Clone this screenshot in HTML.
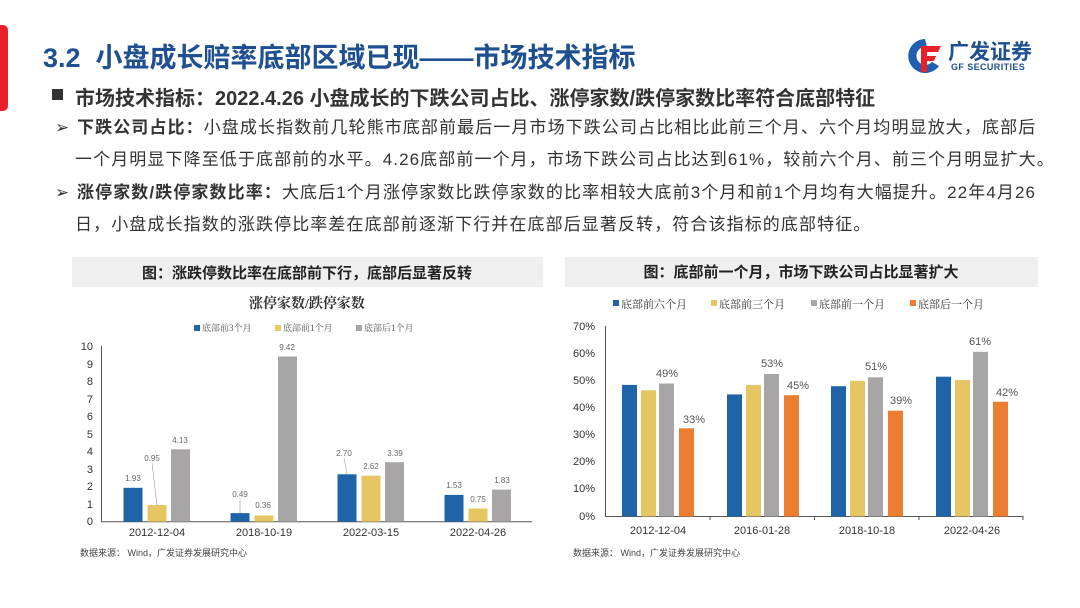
<!DOCTYPE html>
<html><head><meta charset="utf-8"><style>
body{margin:0;width:1080px;height:608px;background:#fff;position:relative;overflow:hidden;font-family:"Liberation Sans","Noto Sans CJK SC",sans-serif;}
.a{position:absolute;white-space:nowrap;}
.t{font-size:17px;color:#333;line-height:20px;letter-spacing:1.1px;}
</style></head><body>
<div class="a" style="left:0;top:25px;width:8px;height:86px;background:#e8202a;border-radius:0 5px 5px 0;"></div>
<div class="a" style="left:43px;top:36px;font-size:27px;font-weight:bold;color:#1d4f91;">3.2&nbsp; 小盘成长赔率底部区域已现——市场技术指标</div>
<svg class="a" style="left:905px;top:36px" width="40" height="40" viewBox="0 0 40 40">
<path d="M20 3 A17 17 0 1 0 34 30 L27 26 A9 9 0 1 1 22 11 Z" fill="#1d5fb0"/>
<path d="M16 10 H36 L33 16 H22 V20 H31 L29 25 H22 V36 H16 Z" fill="#e8202a"/>
</svg>
<div class="a" style="left:948px;top:36px;font-size:21px;font-weight:bold;color:#1d4f91;">广发证券</div>
<div class="a" style="left:951px;top:62px;font-size:9px;font-weight:bold;color:#1d4f91;letter-spacing:0.4px;">GF SECURITIES</div>

<div class="a" style="left:52px;top:89px;width:11px;height:11px;background:#333;"></div>
<div class="a" style="left:75px;top:82px;font-size:20px;font-weight:bold;color:#333;">市场技术指标：2022.4.26 小盘成长的下跌公司占比、涨停家数/跌停家数比率符合底部特征</div>
<div class="a t" style="left:55px;top:118px;">➢</div>
<div class="a t" style="left:77px;top:118px;"><b>下跌公司占比：</b>小盘成长指数前几轮熊市底部前最后一月市场下跌公司占比相比此前三个月、六个月均明显放大，底部后</div>
<div class="a t" style="left:75px;top:150px;">一个月明显下降至低于底部前的水平。4.26底部前一个月，市场下跌公司占比达到61%，较前六个月、前三个月明显扩大。</div>
<div class="a t" style="left:55px;top:183px;">➢</div>
<div class="a t" style="left:77px;top:183px;"><b>涨停家数/跌停家数比率：</b>大底后1个月涨停家数比跌停家数的比率相较大底前3个月和前1个月均有大幅提升。22年4月26</div>
<div class="a t" style="left:75px;top:215px;">日，小盘成长指数的涨跌停比率差在底部前逐渐下行并在底部后显著反转，符合该指标的底部特征。</div>

<svg class="a" style="left:0;top:0" width="1080" height="608" font-family="Liberation Sans, Noto Sans CJK SC, sans-serif">
<!-- left chart -->
<rect x="72" y="257" width="471" height="30" fill="#efefef"/>
<text x="307" y="278" font-size="15" font-weight="bold" text-anchor="middle" fill="#222">图：涨跌停数比率在底部前下行，底部后显著反转</text>
<text x="307" y="308" font-size="14" font-weight="bold" text-anchor="middle" fill="#333" font-family="Liberation Serif, Noto Serif CJK SC, serif">涨停家数/跌停家数</text>
<g font-size="9" fill="#555" font-family="Liberation Serif, Noto Serif CJK SC, serif">
<rect x="194" y="325" width="6" height="6" fill="#1f64a8"/><text x="202" y="331">底部前3个月</text>
<rect x="275" y="325" width="6" height="6" fill="#e6c662"/><text x="283" y="331">底部前1个月</text>
<rect x="356" y="325" width="6" height="6" fill="#a7a5a5"/><text x="364" y="331">底部后1个月</text>
</g>
<g font-size="11" fill="#333" text-anchor="end">
<text x="93" y="350">10</text><text x="93" y="368">9</text><text x="93" y="385">8</text><text x="93" y="403">7</text><text x="93" y="420">6</text><text x="93" y="438">5</text><text x="93" y="455">4</text><text x="93" y="473">3</text><text x="93" y="490">2</text><text x="93" y="508">1</text><text x="93" y="525">0</text>
</g>
<line x1="101.5" y1="346" x2="101.5" y2="522" stroke="#555"/>
<line x1="101" y1="521.7" x2="532" y2="521.7" stroke="#555"/>
<g font-size="11" fill="#333" text-anchor="middle">
<text x="157" y="536">2012-12-04</text><text x="264" y="536">2018-10-19</text><text x="371" y="536">2022-03-15</text><text x="478" y="536">2022-04-26</text>
</g>
<text x="80" y="556" font-size="9" fill="#444">数据来源： Wind，广发证券发展研究中心</text>

<!-- right chart -->
<rect x="565" y="257" width="473" height="30" fill="#efefef"/>
<text x="801" y="277" font-size="15" font-weight="bold" text-anchor="middle" fill="#222">图：底部前一个月，市场下跌公司占比显著扩大</text>
<g font-size="11" fill="#333" font-family="Liberation Serif, Noto Serif CJK SC, serif">
<rect x="613" y="300" width="6" height="6" fill="#1f64a8"/><text x="621" y="308">底部前六个月</text>
<rect x="711" y="300" width="6" height="6" fill="#e6c662"/><text x="719" y="308">底部前三个月</text>
<rect x="811" y="300" width="6" height="6" fill="#a7a5a5"/><text x="819" y="308">底部前一个月</text>
<rect x="910" y="300" width="6" height="6" fill="#ed7d31"/><text x="918" y="308">底部后一个月</text>
</g>
<g font-size="11" fill="#333" text-anchor="end">
<text x="595" y="330">70%</text><text x="595" y="357">60%</text><text x="595" y="384">50%</text><text x="595" y="411">40%</text><text x="595" y="438">30%</text><text x="595" y="465">20%</text><text x="595" y="492">10%</text><text x="595" y="520">0%</text>
</g>
<line x1="605.5" y1="326" x2="605.5" y2="517" stroke="#555"/>
<line x1="605" y1="516.5" x2="1023" y2="516.5" stroke="#555"/>
<g stroke="#555"><line x1="710" y1="516" x2="710" y2="520"/><line x1="814.5" y1="516" x2="814.5" y2="520"/><line x1="919" y1="516" x2="919" y2="520"/><line x1="1023" y1="516" x2="1023" y2="520"/></g>
<g font-size="11" fill="#333" text-anchor="middle">
<text x="658" y="534">2012-12-04</text><text x="762" y="534">2016-01-28</text><text x="867" y="534">2018-10-18</text><text x="972" y="534">2022-04-26</text>
</g>
<text x="573" y="556" font-size="9" fill="#444">数据来源： Wind，广发证券发展研究中心</text>

<!-- left bars -->
<g>
<rect x="123.5" y="487.8" width="19" height="33.9" fill="#1f64a8"/>
<rect x="147.5" y="505.0" width="19" height="16.7" fill="#e6c662"/>
<rect x="171" y="449.3" width="19" height="72.4" fill="#a7a5a5"/>
<rect x="230.5" y="513.1" width="19" height="8.6" fill="#1f64a8"/>
<rect x="254.5" y="515.4" width="19" height="6.3" fill="#e6c662"/>
<rect x="278" y="356.5" width="19" height="165.2" fill="#a7a5a5"/>
<rect x="337.5" y="474.3" width="19" height="47.4" fill="#1f64a8"/>
<rect x="361.5" y="475.7" width="19" height="46" fill="#e6c662"/>
<rect x="385" y="462.2" width="19" height="59.5" fill="#a7a5a5"/>
<rect x="444.5" y="494.9" width="19" height="26.8" fill="#1f64a8"/>
<rect x="468.5" y="508.5" width="19" height="13.2" fill="#e6c662"/>
<rect x="492" y="489.6" width="19" height="32.1" fill="#a7a5a5"/>
</g>
<g font-size="8" fill="#666" text-anchor="middle">
<text x="133" y="481">1.93</text><text x="152" y="461">0.95</text><text x="180" y="443">4.13</text>
<text x="240" y="497">0.49</text><text x="263" y="508">0.36</text><text x="287" y="350">9.42</text>
<text x="344" y="456">2.70</text><text x="371" y="469">2.62</text><text x="395" y="456">3.39</text>
<text x="454" y="488">1.53</text><text x="478" y="502">0.75</text><text x="502" y="483">1.83</text>
</g>
<g stroke="#999" stroke-width="0.6"><line x1="152" y1="463" x2="157" y2="505"/><line x1="240" y1="499" x2="240" y2="513"/><line x1="344" y1="458" x2="347" y2="474"/></g>

<!-- right bars -->
<g>
<rect x="622" y="384.9" width="15" height="131.6" fill="#1f64a8"/>
<rect x="641" y="390.3" width="15" height="126.2" fill="#e6c662"/>
<rect x="659" y="383.5" width="15" height="133" fill="#a7a5a5"/>
<rect x="679" y="428.3" width="15" height="88.2" fill="#ed7d31"/>
<rect x="727" y="394.4" width="15" height="122.1" fill="#1f64a8"/>
<rect x="746" y="384.9" width="15" height="131.6" fill="#e6c662"/>
<rect x="764" y="374" width="15" height="142.5" fill="#a7a5a5"/>
<rect x="784" y="395.2" width="15" height="121.3" fill="#ed7d31"/>
<rect x="831" y="386.2" width="15" height="130.3" fill="#1f64a8"/>
<rect x="850" y="380.8" width="15" height="135.7" fill="#e6c662"/>
<rect x="868" y="377.3" width="15" height="139.2" fill="#a7a5a5"/>
<rect x="888" y="410.7" width="15" height="105.8" fill="#ed7d31"/>
<rect x="936" y="376.7" width="15" height="139.8" fill="#1f64a8"/>
<rect x="955" y="380" width="15" height="136.5" fill="#e6c662"/>
<rect x="973" y="351.8" width="15" height="164.7" fill="#a7a5a5"/>
<rect x="993" y="401.7" width="15" height="114.8" fill="#ed7d31"/>
</g>
<g font-size="11" fill="#555" text-anchor="middle">
<text x="667" y="377">49%</text><text x="694" y="423">33%</text>
<text x="772" y="367">53%</text><text x="798" y="389">45%</text>
<text x="876" y="370">51%</text><text x="901" y="404">39%</text>
<text x="980" y="345">61%</text><text x="1007" y="396">42%</text>
</g>
</svg>
</body></html>
